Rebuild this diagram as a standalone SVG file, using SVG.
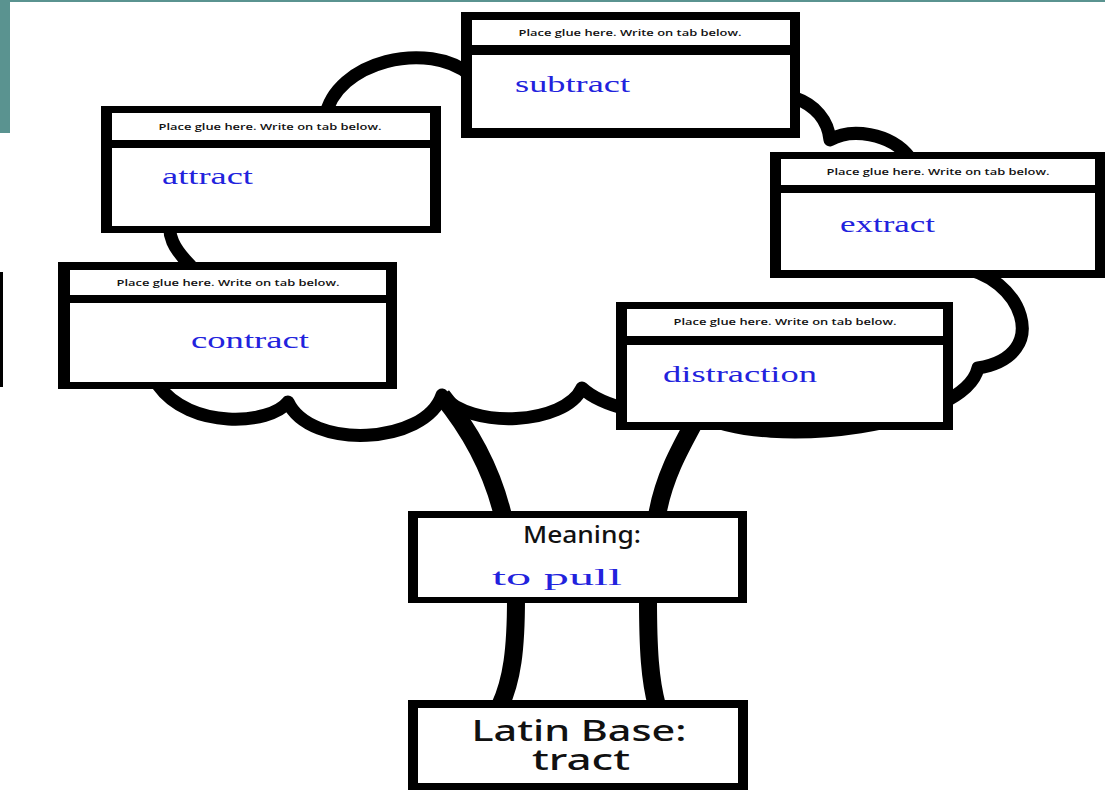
<svg xmlns="http://www.w3.org/2000/svg" width="1105" height="790" viewBox="0 0 1105 790">
  <style>
    .frame { fill: #000; }
    .pane { fill: #fff; }
    .glue { font-family: "Open Sans", "Liberation Sans", sans-serif; font-size: 9px; font-weight: 600; fill: #111; text-anchor: middle; }
    .word { font-family: "Liberation Serif", "Times New Roman", serif; font-size: 23px; fill: #2222dd; }
    .label { font-family: "Noto Sans", "Liberation Sans", sans-serif; font-weight: 500; fill: #111; text-anchor: middle; }
    .canopy { fill: none; stroke: #000; stroke-width: 13; stroke-linejoin: round; }
    .trunk { fill: none; stroke: #000; stroke-width: 18; }
  </style>

  <!-- background and slide trim -->
  <rect x="0" y="0" width="1105" height="790" fill="#fff"/>
  <rect x="0" y="0" width="1105" height="2" fill="#5a9390"/>
  <rect x="0" y="0" width="10" height="133" fill="#5a9390"/>
  <rect x="0" y="272" width="3" height="115" fill="#000"/>

  <!-- cloud canopy outline (runs behind the word boxes) -->
  <g id="canopy">
    <path class="canopy" d="M 325,118 C 335,60 430,40 470,75 L 795,98 C 815,105 828,120 830,140 C 850,128 890,132 910,158 L 960,268 C 1020,275 1055,355 978,368 C 965,425 770,452 700,415 C 650,420 600,405 582,388 C 565,425 470,430 442,395 C 425,445 310,450 288,402 C 270,425 190,430 158,385 C 130,350 150,290 190,265 C 175,250 165,235 172,215 C 200,160 290,150 325,118 Z"/>
  </g>

  <!-- trunk connectors -->
  <g id="connectors">
    <path class="trunk" d="M 442,396 C 470,430 492,470 503,516"/>
    <path class="trunk" d="M 700,412 C 682,445 664,475 657,516"/>
    <path class="trunk" d="M 516,598 C 516,650 512,680 500,706"/>
    <path class="trunk" d="M 648,598 C 648,650 650,680 657,706"/>
  </g>

  <!-- word boxes: glue tab on top, answer below -->
  <g id="box-subtract">
    <rect class="frame" x="461" y="12" width="339" height="126"/>
    <rect class="pane" x="472" y="20" width="318" height="25"/>
    <rect class="pane" x="472" y="55" width="318" height="73"/>
    <text class="glue" x="630" y="36" textLength="223" lengthAdjust="spacingAndGlyphs">Place glue here. Write on tab below.</text>
    <text class="word" x="515" y="92" textLength="115" lengthAdjust="spacingAndGlyphs">subtract</text>
  </g>

  <g id="box-attract">
    <rect class="frame" x="101" y="106" width="340" height="127"/>
    <rect class="pane" x="112" y="113" width="318" height="27"/>
    <rect class="pane" x="112" y="148" width="318" height="78"/>
    <text class="glue" x="270" y="130" textLength="223" lengthAdjust="spacingAndGlyphs">Place glue here. Write on tab below.</text>
    <text class="word" x="162" y="184" textLength="91" lengthAdjust="spacingAndGlyphs">attract</text>
  </g>

  <g id="box-extract">
    <rect class="frame" x="770" y="152" width="335" height="126"/>
    <rect class="pane" x="781" y="159" width="314" height="26"/>
    <rect class="pane" x="781" y="193" width="314" height="77"/>
    <text class="glue" x="938" y="175" textLength="223" lengthAdjust="spacingAndGlyphs">Place glue here. Write on tab below.</text>
    <text class="word" x="840" y="232" textLength="95" lengthAdjust="spacingAndGlyphs">extract</text>
  </g>

  <g id="box-contract">
    <rect class="frame" x="58" y="262" width="339" height="127"/>
    <rect class="pane" x="70" y="270" width="316" height="25"/>
    <rect class="pane" x="70" y="303" width="316" height="79"/>
    <text class="glue" x="228" y="286" textLength="223" lengthAdjust="spacingAndGlyphs">Place glue here. Write on tab below.</text>
    <text class="word" x="191" y="348" textLength="118" lengthAdjust="spacingAndGlyphs">contract</text>
  </g>

  <g id="box-distraction">
    <rect class="frame" x="616" y="302" width="337" height="128"/>
    <rect class="pane" x="627" y="309" width="316" height="27"/>
    <rect class="pane" x="627" y="345" width="316" height="77"/>
    <text class="glue" x="785" y="325" textLength="223" lengthAdjust="spacingAndGlyphs">Place glue here. Write on tab below.</text>
    <text class="word" x="663" y="382" textLength="154" lengthAdjust="spacingAndGlyphs">distraction</text>
  </g>

  <!-- meaning box -->
  <g id="box-meaning">
    <rect class="frame" x="408" y="511" width="339" height="92"/>
    <rect class="pane" x="418" y="518" width="320" height="79"/>
    <text class="label" x="582" y="543" font-size="23" textLength="118" lengthAdjust="spacingAndGlyphs">Meaning:</text>
    <text class="word" x="492" y="585" font-size="32" textLength="130" lengthAdjust="spacingAndGlyphs">to pull</text>
  </g>

  <!-- root box -->
  <g id="box-latin-base">
    <rect class="frame" x="408" y="700" width="340" height="90"/>
    <rect class="pane" x="418" y="708" width="320" height="75"/>
    <text class="label" x="579" y="741" font-size="29" textLength="215" lengthAdjust="spacingAndGlyphs">Latin Base:</text>
    <text class="label" x="581" y="770" font-size="29" textLength="98" lengthAdjust="spacingAndGlyphs">tract</text>
  </g>
</svg>
